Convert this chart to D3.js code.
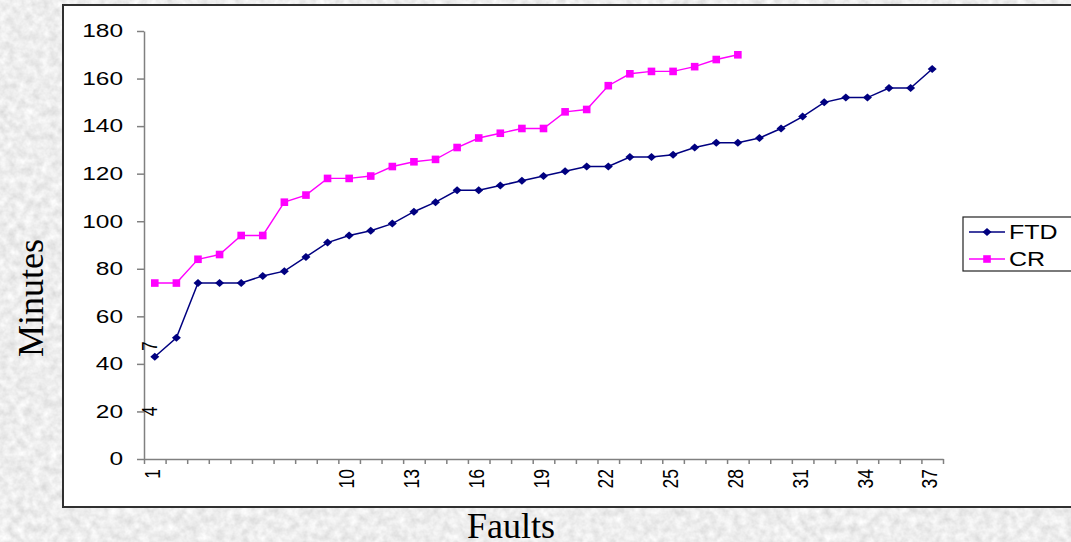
<!DOCTYPE html>
<html><head><meta charset="utf-8">
<script src="https://cdn.jsdelivr.net/npm/d3@7"></script>
<style>html,body{margin:0;padding:0;overflow:hidden;background:#dadada}</style>
</head><body><svg id="c" width="1071" height="542"></svg>
<script>
const categories = [1,2,3,4,5,6,7,8,9,10,11,12,13,14,15,16,17,18,19,20,21,22,23,24,25,26,27,28,29,30,31,32,33,34,35,36,37];
const ftd = [43,51,74,74,74,77,79,85,91,94,96,99,104,108,113,113,115,117,119,121,123,123,127,127,128,131,133,133,135,139,144,150,152,152,156,156,164];
const cr = [74,74,84,86,94,94,108,111,118,118,119,123,125,126,131,135,137,139,139,146,147,157,162,163,163,165,168,170];
const xTickLabels = [1,10,13,16,19,22,25,28,31,34,37];
const strayLabels = ["7","4"];
const strayValues = [47.5,20];
const yTicks = [0,20,40,60,80,100,120,140,160,180];
const seriesNames = ["FTD","CR"];

const svg = d3.select("#c");
const W = 1071, H = 542;

// textured background
const defs = svg.append("defs");
const f = defs.append("filter").attr("id","tex").attr("x",0).attr("y",0).attr("width","100%").attr("height","100%");
f.append("feTurbulence").attr("type","fractalNoise").attr("baseFrequency","0.12").attr("numOctaves",3).attr("seed",7);
f.append("feColorMatrix").attr("type","matrix")
 .attr("values","0.38 0 0 0 0.66  0.38 0 0 0 0.66  0.38 0 0 0 0.66  0 0 0 0 1");
svg.append("rect").attr("width",W).attr("height",H).attr("filter","url(#tex)");

// panel
svg.append("rect").attr("x",63).attr("y",5).attr("width",1020).attr("height",502)
  .attr("fill","#fff").attr("stroke","#303030").attr("stroke-width",2);

const x0 = 144, x1 = 943, yTop = 31, yBot = 459;
const xb = d3.scaleBand().domain(categories).range([x0,x1]).paddingInner(0).paddingOuter(0);
const xl = d3.scaleLinear().domain([0,categories.length]).range([x0,x1]);
const y = d3.scaleLinear().domain([0,180]).range([yBot,yTop]);
const cx = d => xb(d) + xb.bandwidth()/2;

// y axis
const ya = svg.append("g").attr("transform",`translate(${x0},0)`)
  .call(d3.axisLeft(y).tickValues(yTicks).tickSize(7).tickSizeOuter(0).tickFormat(""));
ya.selectAll("path,line").attr("stroke","#808080").attr("stroke-width",1.5);
svg.append("g").selectAll("text").data(yTicks).join("text")
  .attr("transform",d=>`translate(123,${y(d)}) scale(1.4,1)`)
  .attr("text-anchor","end").attr("dy","0.36em")
  .attr("font-family","Liberation Sans, Arial, sans-serif").attr("font-size",17.5)
  .attr("fill","#000").text(d=>d);

// x axis
const xa = svg.append("g").attr("transform",`translate(0,${yBot})`)
  .call(d3.axisBottom(xl).tickValues(d3.range(0,categories.length+1)).tickSize(5).tickSizeOuter(0).tickFormat(""));
xa.selectAll("path,line").attr("stroke","#808080").attr("stroke-width",1.5);
svg.append("g").selectAll("text").data(xTickLabels).join("text")
  .attr("transform",d=>`translate(${cx(d)-3},469) scale(1.3,1) rotate(-90)`)
  .attr("text-anchor","end").attr("dy","0.36em")
  .attr("font-family","Liberation Sans, Arial, sans-serif").attr("font-size",17.5)
  .attr("fill","#000").text(d=>d);
// stray rotated labels near the y axis
svg.append("g").selectAll("text").data(strayLabels).join("text")
  .attr("transform",(d,i)=>`translate(${cx(1)-6},${y(strayValues[i])}) scale(1.3,1) rotate(-90)`)
  .attr("text-anchor","middle").attr("dy","0.36em")
  .attr("font-family","Liberation Sans, Arial, sans-serif").attr("font-size",17.5)
  .attr("fill","#000").text(d=>d);

// series
const line = d3.line().x((d,i)=>cx(categories[i])).y(d=>y(d));
svg.append("path").datum(cr).attr("d",line).attr("fill","none").attr("stroke","#ff00ff").attr("stroke-width",1.4);
svg.append("path").datum(ftd).attr("d",line).attr("fill","none").attr("stroke","#000080").attr("stroke-width",1.5);
const diamond = "M0,-4L4.5,0L0,4L-4.5,0Z";
svg.append("g").selectAll("rect").data(cr).join("rect")
  .attr("x",(d,i)=>cx(categories[i])-3.8).attr("y",d=>y(d)-3.8).attr("width",7.6).attr("height",7.6).attr("fill","#ff00ff");
svg.append("g").selectAll("path").data(ftd).join("path")
  .attr("transform",(d,i)=>`translate(${cx(categories[i])},${y(d)})`).attr("d",diamond).attr("fill","#000080");

// legend
svg.append("rect").attr("x",963).attr("y",217).attr("width",130).attr("height",54)
  .attr("fill","#fff").attr("stroke","#222").attr("stroke-width",1.2);
const legColors = ["#000080","#ff00ff"];
const legY = [232,259];
seriesNames.forEach((n,i)=>{
  svg.append("line").attr("x1",969).attr("x2",1005).attr("y1",legY[i]).attr("y2",legY[i])
    .attr("stroke",legColors[i]).attr("stroke-width",1.5);
  if(i===0) svg.append("path").attr("transform",`translate(987,${legY[i]})`).attr("d",diamond).attr("fill",legColors[i]);
  else svg.append("rect").attr("x",987-3.8).attr("y",legY[i]-3.8).attr("width",7.6).attr("height",7.6).attr("fill",legColors[i]);
  svg.append("text").attr("transform",`translate(1009,${legY[i]}) scale(1.25,1)`).attr("dy","0.36em")
    .attr("font-family","Liberation Sans, Arial, sans-serif").attr("font-size",20).attr("fill","#000").text(n);
});

// axis titles
svg.append("text").attr("transform","translate(43,298) rotate(-90)").attr("text-anchor","middle")
  .attr("font-family","Liberation Serif, Times New Roman, serif").attr("font-size",36).attr("fill","#000").text("Minutes");
svg.append("text").attr("x",511).attr("y",538).attr("text-anchor","middle")
  .attr("font-family","Liberation Serif, Times New Roman, serif").attr("font-size",36).attr("fill","#000").text("Faults");
</script></body></html>
